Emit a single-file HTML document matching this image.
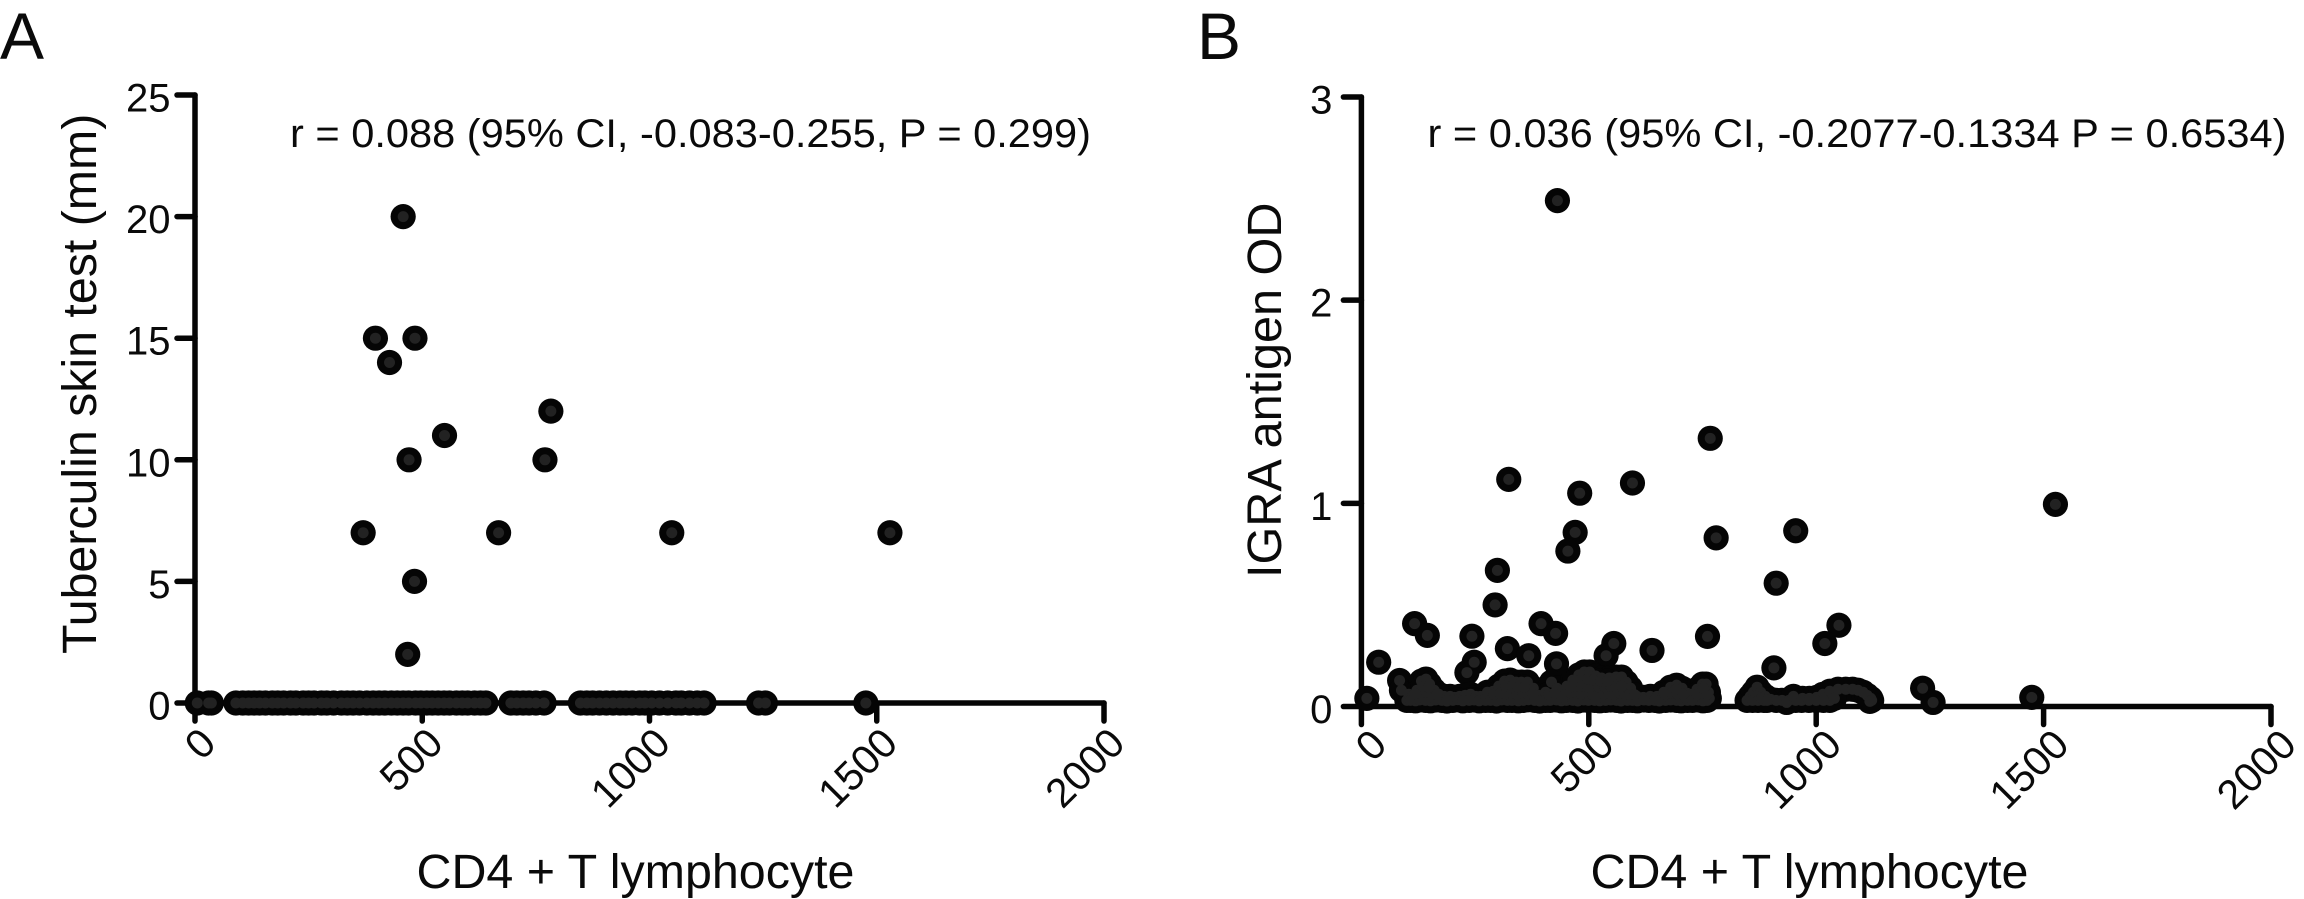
<!DOCTYPE html>
<html lang="en">
<head>
<meta charset="utf-8">
<title>CD4 T lymphocyte correlations</title>
<style>
html,body{margin:0;padding:0;background:#fff;}
svg{display:block;}
text{font-family:"Liberation Sans",Arial,sans-serif;fill:#0a0a0a;}
</style>
</head>
<body>
<svg id="figure" xmlns="http://www.w3.org/2000/svg" width="2304" height="899" viewBox="0 0 2304 899">
  <rect x="0" y="0" width="2304" height="899" fill="#fff"/>
  <text x="0" y="59" font-size="66">A</text>
  <text x="1197" y="59" font-size="66">B</text>
  <g id="panel-a"></g>
  <g id="panel-b"></g>
  <text transform="translate(96,654) rotate(-90)" font-size="48.3">Tuberculin skin test (mm)</text>
  <text transform="translate(1281,578) rotate(-90)" font-size="48.6">IGRA antigen OD</text>
  <text x="635.5" y="888" font-size="48.4" text-anchor="middle">CD4 + T lymphocyte</text>
  <text x="1809.5" y="888" font-size="48.4" text-anchor="middle">CD4 + T lymphocyte</text>
  <text x="290" y="147" font-size="40" textLength="801" lengthAdjust="spacingAndGlyphs">r = 0.088 (95% CI, -0.083-0.255, P = 0.299)</text>
  <text x="1427.5" y="147" font-size="40" textLength="859" lengthAdjust="spacingAndGlyphs">r = 0.036 (95% CI, -0.2077-0.1334 P = 0.6534)</text>
</svg>
<script>
var xTickLabels = [0, 500, 1000, 1500, 2000];
var yTickLabelsA = [0, 5, 10, 15, 20, 25];
var yTickLabelsB = [0, 1, 2, 3];

var cd4A = [5,30,36,90,105,118,130,142,155,170,182,195,210,222,238,250,262,278,290,305,322,335,348,362,378,392,405,418,432,445,458,470,485,497,510,522,535,548,560,575,588,600,615,628,640,695,708,722,735,750,768,848,862,875,890,905,920,935,948,962,978,990,1005,1022,1040,1058,1070,1088,1105,1120,1240,1255,1476,458,397,484,428,783,549,471,770,370,668,1049,1529,483,468];
var tstA = [0,0,0,0,0,0,0,0,0,0,0,0,0,0,0,0,0,0,0,0,0,0,0,0,0,0,0,0,0,0,0,0,0,0,0,0,0,0,0,0,0,0,0,0,0,0,0,0,0,0,0,0,0,0,0,0,0,0,0,0,0,0,0,0,0,0,0,0,0,0,0,0,0,20,15,15,14,12,11,10,10,7,7,7,7,5,2];

var cd4BOutliers = [431,324,767,480,596,1526,470,780,955,454,299,912,294,38,117,145,243,248,232,321,368,395,427,429,555,538,639,761,907,1050,1019,12,1234,1257,1474];
var odBOutliers = [2.49,1.118,1.32,1.05,1.10,0.995,0.857,0.83,0.865,0.765,0.67,0.607,0.50,0.218,0.408,0.35,0.346,0.218,0.167,0.285,0.25,0.408,0.36,0.21,0.31,0.25,0.276,0.345,0.19,0.40,0.31,0.04,0.09,0.02,0.045];

var cd4BUpper = [84,88,100,104,112,122,132,142,150,160,170,182,195,205,216,228,240,252,262,277,290,302,315,327,340,352,365,378,392,405,418,430,442,452,465,478,490,502,515,528,545,560,572,582,592,606,620,635,650,665,680,693,705,716,727,738,750,758,763,765];
var odBUpper = [0.128,0.08,0.03,0.06,0.05,0.08,0.125,0.135,0.11,0.08,0.06,0.05,0.05,0.045,0.05,0.055,0.06,0.05,0.05,0.07,0.075,0.10,0.125,0.13,0.12,0.12,0.12,0.09,0.055,0.07,0.12,0.09,0.08,0.10,0.13,0.155,0.17,0.17,0.15,0.14,0.14,0.145,0.145,0.12,0.09,0.05,0.045,0.05,0.05,0.07,0.095,0.105,0.09,0.065,0.06,0.085,0.11,0.11,0.07,0.04];

var cd4BLow = [108,119,128,141,152,163,177,188,201,212,223,237,248,259,273,284,297,308,321,331,345,356,367,381,392,405,415,429,440,451,465,476,489,499,513,524,537,548,561,571,585,596,607,621,632,645,655,669,680,693,703,717,728,741,751,760];
var odBLow = [0.03,0.028,0.032,0.03,0.028,0.032,0.03,0.027,0.03,0.033,0.028,0.03,0.032,0.028,0.03,0.03,0.027,0.032,0.03,0.03,0.028,0.03,0.033,0.03,0.027,0.03,0.03,0.032,0.028,0.03,0.03,0.027,0.032,0.03,0.03,0.028,0.03,0.032,0.03,0.027,0.03,0.03,0.028,0.032,0.03,0.03,0.027,0.03,0.032,0.03,0.028,0.03,0.03,0.032,0.028,0.03];

var cd4BMid = [118,130,143,155,166,292,305,317,330,342,355,366,377,412,425,437,449,460,473,484,497,508,521,533,544,557,568,579,590,601,668,682,695,707,738,749,760];
var odBMid = [0.062,0.065,0.07,0.062,0.06,0.06,0.065,0.062,0.068,0.06,0.065,0.062,0.06,0.06,0.065,0.06,0.062,0.068,0.065,0.062,0.067,0.06,0.065,0.062,0.068,0.06,0.065,0.062,0.06,0.058,0.06,0.065,0.062,0.06,0.06,0.065,0.06];

var cd4BHigh = [136,148,318,331,344,358,460,472,485,497,510,522,535,548,560,572,692,752,470,484,498,511,526,541];
var odBHigh = [0.098,0.095,0.10,0.098,0.095,0.095,0.098,0.10,0.10,0.098,0.10,0.095,0.098,0.10,0.098,0.10,0.085,0.09,0.125,0.135,0.135,0.13,0.125,0.125];

var cd4BSecond = [848,855,862,870,878,888,900,912,925,940,955,970,985,1001,1015,1030,1048,1065,1080,1092,1103,1112,1120,1122,860,868,872,880,885,892,1030,1040,1118,935,950,968,984,1000,1016];
var odBSecond = [0.03,0.05,0.07,0.095,0.07,0.05,0.035,0.03,0.03,0.03,0.03,0.04,0.04,0.045,0.06,0.075,0.085,0.085,0.085,0.08,0.07,0.055,0.04,0.03,0.03,0.05,0.03,0.04,0.03,0.03,0.03,0.04,0.025,0.02,0.05,0.03,0.03,0.03,0.03];

var cd4B = cd4BOutliers.concat(cd4BUpper, cd4BLow, cd4BMid, cd4BHigh, cd4BSecond);
var odB = odBOutliers.concat(odBUpper, odBLow, odBMid, odBHigh, odBSecond);

var SVG_NS = 'http://www.w3.org/2000/svg';

function makeScale(domainMax, rangeStart, rangeEnd) {
  return function (v) {
    return rangeStart + (v / domainMax) * (rangeEnd - rangeStart);
  };
}

function svgEl(tag, attrs, parent) {
  var el = document.createElementNS(SVG_NS, tag);
  for (var k in attrs) {
    el.setAttribute(k, attrs[k]);
  }
  parent.appendChild(el);
  return el;
}

function drawAxes(root, xScale, yScale, xMax, yMax, yTicks, yLabelGap, xLabelDx, xLabelDy) {
  var axisStyle = { stroke: '#050505', 'stroke-width': 5.5, 'stroke-linecap': 'round', fill: 'none' };
  var x0 = xScale(0);
  var y0 = yScale(0);

  var yAxis = svgEl('line', Object.assign({ x1: x0, y1: yScale(yMax), x2: x0, y2: y0 }, axisStyle), root);
  
  

  var xAxis = svgEl('line', Object.assign({ x1: x0, y1: y0, x2: xScale(xMax), y2: y0 }, axisStyle), root);
  
  

  yTicks.forEach(function (t) {
    var y = yScale(t);
    var tick = svgEl('line', Object.assign({ x1: x0 - 18, y1: y, x2: x0, y2: y }, axisStyle), root);
    
    
    var label = svgEl('text', { x: x0 - yLabelGap, y: y + 16.5, 'font-size': 40, 'text-anchor': 'end' }, root);
    
    
    label.textContent = String(t);
  });

  xTickLabels.forEach(function (t) {
    var x = xScale(t);
    var tick = svgEl('line', Object.assign({ x1: x, y1: y0, x2: x, y2: y0 + 18 }, axisStyle), root);
    
    
    var label = svgEl('text', { transform: 'translate(' + (x + xLabelDx) + ',' + (y0 + xLabelDy) + ') rotate(-45)', 'font-size': 41, 'text-anchor': 'end' }, root);
    
    
    label.textContent = String(t);
  });
}

function drawPoints(root, xs, ys, xScale, yScale) {
  var outlines = svgEl('g', { fill: '#050505' }, root);
  
  
  var cores = svgEl('g', { fill: '#222222' }, root);
  
  
  xs.forEach(function (v, i) {
    var cx = xScale(v);
    var cy = yScale(ys[i]);
    var outer = svgEl('circle', { cx: cx, cy: cy, r: 12.6 }, outlines);
    
    
    var inner = svgEl('circle', { cx: cx, cy: cy, r: 5.5 }, cores);
    
    
  });
}

var panelA = document.getElementById('panel-a');
var xScaleA = makeScale(2000, 195, 1104);
var yScaleA = makeScale(25, 703, 95);
drawAxes(panelA, xScaleA, yScaleA, 2000, 25, yTickLabelsA, 24.5, 23, 42.5);
drawPoints(panelA, cd4A, tstA, xScaleA, yScaleA);

var panelB = document.getElementById('panel-b');
var xScaleB = makeScale(2000, 1361.4, 2271);
var yScaleB = makeScale(3, 706.5, 97);
drawAxes(panelB, xScaleB, yScaleB, 2000, 3, yTickLabelsB, 29, 27.5, 40.5);
drawPoints(panelB, cd4B, odB, xScaleB, yScaleB);
</script>
</body>
</html>
